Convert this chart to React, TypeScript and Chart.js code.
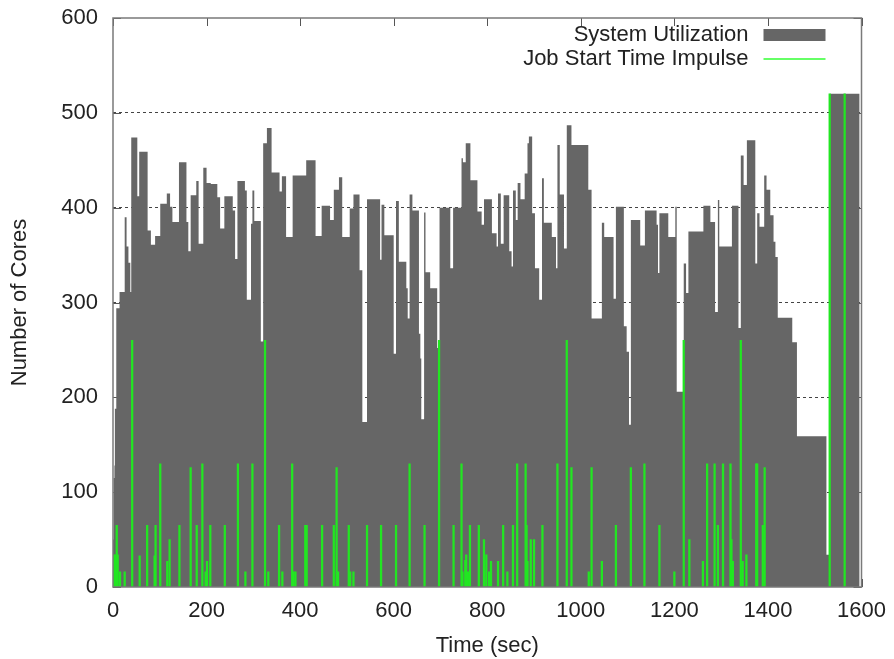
import React, { useEffect, useRef } from "react";
import { Chart, registerables } from "chart.js";

Chart.register(...registerables);

// Step function of system utilization: [start time (sec), cores in use]
const utilTimes: number[] = [
  0, 1.4, 3, 4, 7, 14, 25, 29, 33, 37, 39, 52, 56, 74, 81, 90, 101, 115, 122, 127,
  141, 157, 161, 166, 178, 183, 193, 200, 209, 223, 229, 238, 256, 261, 266, 282, 286, 295, 298, 302,
  316, 321, 329, 339, 356, 361, 370, 384, 413, 433, 446, 464, 472, 483, 490, 506, 514, 527, 533, 543,
  571, 574, 580, 600, 605, 611, 627, 630, 634, 640, 654, 657, 659, 665, 668, 678, 693, 698, 721, 727,
  745, 748, 754, 764, 779, 788, 793, 810, 820, 823, 829, 835, 847, 852, 855, 861, 865, 871, 880, 886,
  889, 896, 902, 911, 917, 921, 938, 947, 950, 955, 964, 970, 980, 1016, 1023, 1045, 1050, 1070, 1075, 1092,
  1098, 1103, 1107, 1127, 1137, 1162, 1165, 1168, 1187, 1202, 1205, 1220, 1225, 1230, 1262, 1277, 1287, 1293, 1296, 1323,
  1337, 1342, 1348, 1355, 1373, 1377, 1382, 1392, 1397, 1405, 1412, 1416, 1421, 1452, 1462, 1525, 1532, 1596,
];
const utilCores: number[] = [
  50, 115, 128, 188, 294, 311, 390, 359, 342, 311, 474, 412, 459, 376, 361, 370, 404, 415, 401, 385,
  448, 385, 354, 413, 428, 362, 442, 426, 425, 411, 378, 412, 397, 346, 428, 418, 303, 383, 418, 386,
  259, 468, 484, 437, 417, 433, 369, 434, 450, 370, 402, 387, 419, 432, 369, 399, 414, 334, 174, 409,
  345, 403, 371, 246, 407, 343, 315, 283, 414, 397, 267, 241, 177, 395, 332, 315, 252, 400, 336, 400,
  452, 448, 468, 429, 396, 382, 409, 373, 359, 415, 362, 413, 354, 338, 418, 387, 426, 409, 436, 468,
  475, 394, 336, 303, 431, 384, 369, 336, 466, 414, 357, 487, 466, 419, 283, 384, 369, 304, 401, 275,
  248, 171, 387, 360, 397, 382, 331, 394, 369, 401, 206, 341, 310, 375, 402, 385, 290, 408, 359, 402,
  273, 455, 424, 471, 341, 394, 380, 434, 419, 392, 364, 348, 284, 258, 159, 34, 520, 520,
];

// Job start impulses: [start time (sec), cores requested]
const jobTimes: number[] = [
  2, 5, 8, 10, 15, 25, 41, 57, 73, 89, 91, 101, 116, 121, 142, 166, 179, 191, 198, 201,
  208, 239, 267, 283, 298, 325, 332, 355, 362, 383, 386, 390, 411, 414, 447, 472, 478, 481, 504, 507,
  514, 543, 573, 605, 634, 666, 697, 728, 745, 747, 753, 755, 759, 763, 782, 793, 798, 804, 808, 823,
  834, 843, 855, 864, 882, 884, 886, 893, 900, 918, 950, 970, 980, 1017, 1023, 1045, 1075, 1107, 1136, 1168,
  1200, 1220, 1232, 1261, 1270, 1286, 1293, 1304, 1320, 1322, 1325, 1342, 1346, 1354, 1375, 1377, 1389, 1393, 1532, 1564,
];
const jobCores: number[] = [
  34, 34, 65, 34, 16, 16, 260, 33, 65, 33, 65, 130, 27, 50, 65, 126, 65, 130, 16, 27,
  65, 65, 130, 16, 130, 260, 16, 65, 16, 130, 16, 16, 65, 65, 65, 65, 126, 16, 65, 16,
  16, 65, 65, 65, 130, 65, 260, 65, 130, 16, 28, 34, 16, 65, 65, 50, 34, 16, 27, 27,
  65, 16, 65, 130, 130, 65, 27, 50, 50, 65, 130, 260, 126, 16, 126, 27, 65, 126, 130, 65,
  16, 260, 50, 27, 130, 130, 65, 130, 130, 50, 27, 260, 27, 34, 130, 130, 65, 126, 520, 520,
];

const xTicks: number[] = [0, 200, 400, 600, 800, 1000, 1200, 1400, 1600];
const yTicks: number[] = [0, 100, 200, 300, 400, 500, 600];

const seriesNames = ["System Utilization", "Job Start Time Impulse"];
const GRAY = "#666666";
const GREEN = "#22e622";
const FONT = "'Liberation Sans', Arial, sans-serif";
const TEXT = "#222222";

const framePlugin = {
  id: "gnuplotFrame",
  beforeDatasetsDraw(chart: any) {
    const { ctx, chartArea: a, scales } = chart;
    ctx.save();
    ctx.strokeStyle = "#555";
    ctx.lineWidth = 1;
    const L = 8;
    ctx.beginPath();
    for (const v of yTicks) {
      const y = Math.round(scales.y.getPixelForValue(v)) + 0.5;
      ctx.moveTo(a.left, y);
      ctx.lineTo(a.left + L, y);
      ctx.moveTo(a.right, y);
      ctx.lineTo(a.right - L, y);
    }
    for (const v of xTicks) {
      const x = Math.round(scales.x.getPixelForValue(v)) + 0.5;
      ctx.moveTo(x, a.top);
      ctx.lineTo(x, a.top + L);
      ctx.moveTo(x, a.bottom);
      ctx.lineTo(x, a.bottom - L);
    }
    ctx.stroke();
    ctx.restore();
  },
  afterDatasetsDraw(chart: any) {
    const { ctx, chartArea: a } = chart;
    ctx.save();
    ctx.strokeStyle = "#7a7a7a";
    ctx.lineWidth = 1.5;
    ctx.strokeRect(a.left, a.top, a.right - a.left, a.bottom - a.top);
    // legend (gnuplot style: right-aligned text, sample to the right)
    ctx.font = `22px ${FONT}`;
    ctx.fillStyle = TEXT;
    ctx.textAlign = "right";
    ctx.textBaseline = "middle";
    const tx = a.right - 113;
    const sx0 = a.right - 98;
    const sx1 = a.right - 36;
    const y1 = a.top + 17;
    const y2 = a.top + 41;
    ctx.fillText(seriesNames[0], tx, y1);
    ctx.fillText(seriesNames[1], tx, y2);
    ctx.fillStyle = GRAY;
    ctx.fillRect(sx0, y1 - 6, sx1 - sx0, 12);
    ctx.strokeStyle = "#66ff66";
    ctx.lineWidth = 2;
    ctx.beginPath();
    ctx.moveTo(sx0, y2);
    ctx.lineTo(sx1, y2);
    ctx.stroke();
    ctx.restore();
  },
};

export default function App() {
  const canvasRef = useRef<HTMLCanvasElement | null>(null);

  useEffect(() => {
    document.body.style.margin = "0";
    const canvas = canvasRef.current;
    if (!canvas) return;

    const utilData = utilTimes.map((t, i) => ({ x: t, y: utilCores[i] }));
    const jobData = jobTimes.map((t, i) => ({ x: t, y: jobCores[i] }));

    const chart = new Chart(canvas, {
      type: "line",
      data: {
        datasets: [
          {
            type: "bar",
            label: seriesNames[1],
            data: jobData,
            backgroundColor: GREEN,
            borderWidth: 0,
            barThickness: 1.6,
            grouped: false,
            order: 0,
          } as any,
          {
            type: "line",
            label: seriesNames[0],
            data: utilData,
            stepped: "before",
            fill: "origin",
            backgroundColor: GRAY,
            borderColor: GRAY,
            borderWidth: 0,
            pointRadius: 0,
            order: 1,
          } as any,
        ],
      },
      options: {
        animation: false,
        responsive: true,
        maintainAspectRatio: false,
        layout: { padding: { top: 18, right: 32.5, left: 0, bottom: 0 } },
        plugins: {
          legend: { display: false },
          tooltip: { enabled: false },
        },
        scales: {
          x: {
            type: "linear",
            min: 0,
            max: 1600,
            offset: false,
            grid: { display: false, drawTicks: false },
            border: { display: false },
            afterBuildTicks: (s: any) => {
              s.ticks = xTicks.map((v) => ({ value: v }));
            },
            afterFit: (s: any) => {
              s.height = 72;
              s.paddingLeft = 0;
              s.paddingRight = 0;
            },
            ticks: {
              font: { family: FONT, size: 22 },
              color: TEXT,
              padding: 11,
              maxRotation: 0,
              autoSkip: false,
              callback: (v: any) => String(v),
            },
            title: {
              display: true,
              text: "Time (sec)",
              font: { family: FONT, size: 22 },
              color: TEXT,
              padding: { top: 0, bottom: 0 },
            },
          },
          y: {
            type: "linear",
            min: 0,
            max: 600,
            afterBuildTicks: (s: any) => {
              s.ticks = yTicks.map((v) => ({ value: v }));
            },
            afterFit: (s: any) => {
              s.width = 113;
              s.paddingTop = 0;
              s.paddingBottom = 0;
            },
            grid: {
              drawTicks: false,
              color: (c: any) =>
                c.tick && (c.tick.value === 0 || c.tick.value === 600) ? "rgba(0,0,0,0)" : "#444",
              lineWidth: 1,
            },
            border: { display: false, dash: [3, 3] },
            ticks: {
              font: { family: FONT, size: 22 },
              color: TEXT,
              padding: 15,
              callback: (v: any) => String(v),
            },
            title: {
              display: true,
              text: "Number of Cores",
              font: { family: FONT, size: 22 },
              color: TEXT,
              padding: { top: 7, bottom: 0 },
            },
          },
        },
      },
      plugins: [framePlugin],
    });

    return () => chart.destroy();
  }, []);

  return (
    <div style={{ width: 894, height: 659, position: "relative" }}>
      <canvas ref={canvasRef} />
    </div>
  );
}
